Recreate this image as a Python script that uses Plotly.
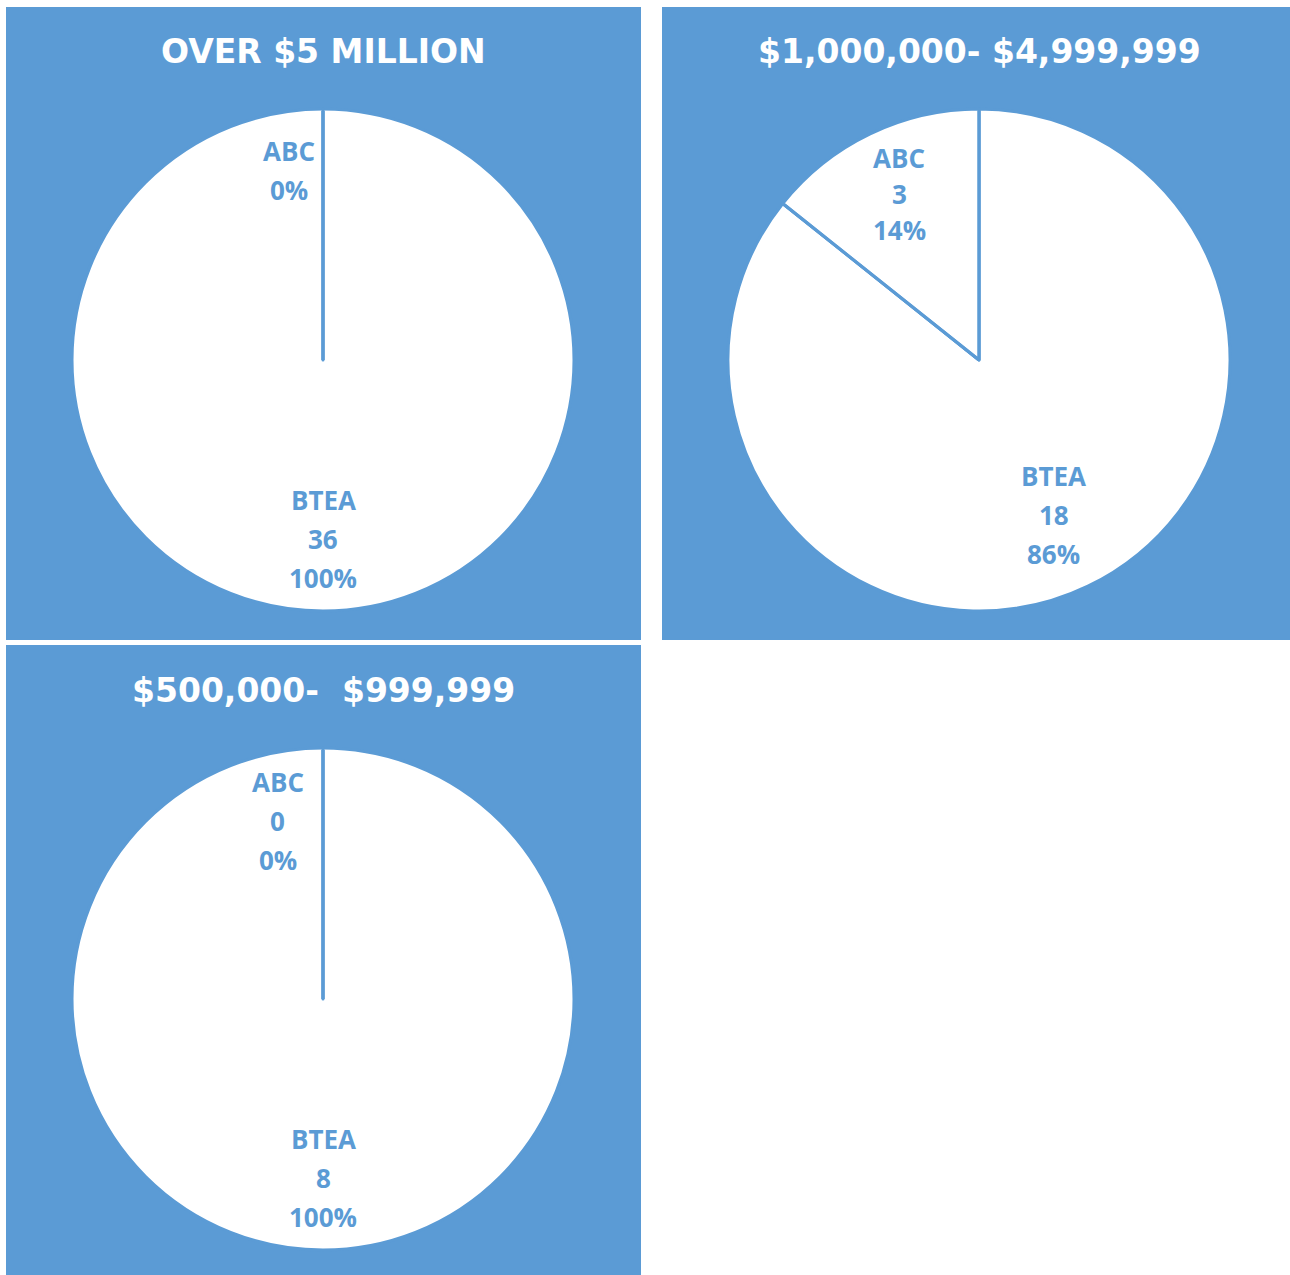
import math
import plotly.graph_objects as go

# data
titles = ["OVER $5 MILLION", "$1,000,000- $4,999,999", "$500,000-\u00a0\u00a0$999,999"]
slice_labels = ["BTEA", "ABC"]
btea_counts = [36, 18, 8]
abc_counts = [0, 3, 0]
# which pieces of text each slice shows in the data labels
show_value = [[True, False], [True, True], [True, True]]

W, H = 1290, 1275
BLUE = "#5B9BD5"
LABEL_FONT = "Open Sans"
TITLE_FONT = "DejaVu Sans"

# panel boxes (px) and pie centre / radius (px)
panels = [(6, 7, 641, 640), (662, 7, 1290, 640), (6, 645, 641, 1275)]
centres = [(323, 360), (979, 360), (323, 999)]
R = 251
# label placement: distance from centre (fraction of R) and line gap, per slice
label_r = [[0.72, 0.76], [0.69, 0.74], [0.72, 0.715]]
line_gap = [[39, 39], [39, 36], [39, 39]]
zero_dx = [-34, -34, -45]


def px(x):
    return x / W


def py(y):
    return 1 - y / H


fig = go.Figure()
shapes = []
annotations = []

for i, title in enumerate(titles):
    x0, y0, x1, y1 = panels[i]
    shapes.append(dict(type="rect", xref="paper", yref="paper", x0=px(x0), x1=px(x1),
                       y0=py(y1), y1=py(y0), fillcolor=BLUE, line=dict(width=0),
                       layer="below"))
    cx, cy = centres[i]
    values = [btea_counts[i], abc_counts[i]]
    total = sum(values)

    fig.add_trace(go.Pie(
        labels=slice_labels, values=values, sort=False, direction="clockwise",
        rotation=0, textinfo="none", showlegend=False, hoverinfo="label+value+percent",
        marker=dict(colors=["white", "white"], line=dict(color=BLUE, width=3)),
        domain=dict(x=[px(cx - R), px(cx + R)], y=[py(cy + R), py(cy - R)]),
    ))

    # title
    annotations.append(dict(text=title, x=px(cx), y=py(y0 + 45),
                            xref="paper", yref="paper", showarrow=False,
                            xanchor="center", yanchor="middle",
                            font=dict(family=TITLE_FONT, size=33, color="white", weight="bold")))

    # slice boundaries
    cum = 0
    for v in values:
        ang = 2 * math.pi * cum / total
        shapes.append(dict(type="line", xref="paper", yref="paper",
                           x0=px(cx), y0=py(cy),
                           x1=px(cx + 249 * math.sin(ang)), y1=py(cy - 249 * math.cos(ang)),
                           line=dict(color=BLUE, width=3), layer="above"))
        cum += v

    # data labels
    cum = 0
    for j, v in enumerate(values):
        mid = 2 * math.pi * (cum + v / 2) / total
        cum += v
        pct = round(100 * v / total)
        lines = [slice_labels[j]]
        if show_value[i][j]:
            lines.append(str(v))
        lines.append(f"{pct}%")
        rr = label_r[i][j] * 249
        lx = cx + rr * math.sin(mid)
        ly = cy - rr * math.cos(mid)
        if v == 0:
            lx += zero_dx[i]
        n = len(lines)
        for k, t in enumerate(lines):
            yy = ly + (k - (n - 1) / 2) * line_gap[i][j]
            annotations.append(dict(text=t, x=px(lx), y=py(yy), xref="paper", yref="paper",
                                    showarrow=False, xanchor="center", yanchor="middle",
                                    font=dict(family=LABEL_FONT, size=26, color=BLUE,
                                              weight="bold")))

fig.update_layout(
    width=W, height=H,
    margin=dict(l=0, r=0, t=0, b=0),
    paper_bgcolor="white", plot_bgcolor="white",
    shapes=shapes, annotations=annotations,
)

fig.write_html("out.html", config={"displayModeBar": False},
               post_script="document.body.style.margin='0px';")
